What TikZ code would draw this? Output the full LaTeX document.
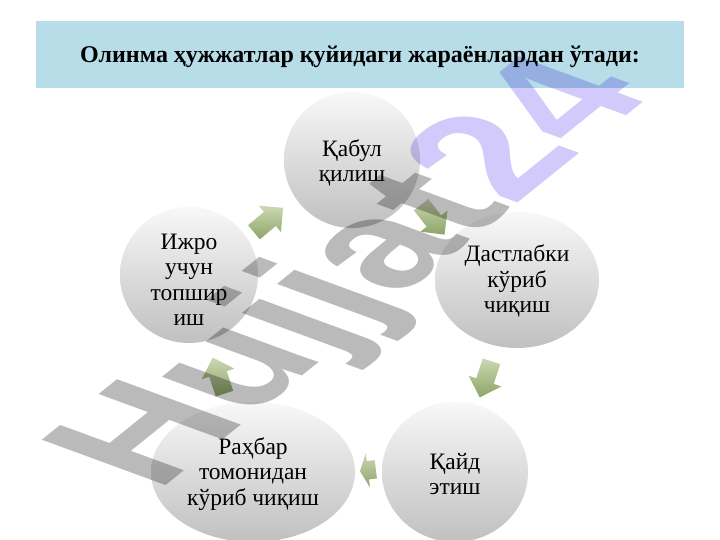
\documentclass[tikz,border=0pt]{standalone}
\usepackage{fontspec}
\setmainfont{Liberation Serif}
\newfontfamily\wmfont{Liberation Sans}
\usetikzlibrary{shapes.geometric,shapes.arrows}
\definecolor{titlebg}{RGB}{183,221,232}
\definecolor{bubtop}{RGB}{248,248,248}
\definecolor{bubbot}{RGB}{192,192,192}
\definecolor{arlight}{RGB}{204,216,178}
\definecolor{ardark}{RGB}{142,164,104}
\definecolor{wmgray}{RGB}{186,186,186}
\definecolor{wmviolet}{RGB}{210,202,250}
\begin{document}
\begin{tikzpicture}[x=1pt,y=-1pt,
  bubble/.style={ellipse, inner sep=0pt, shade, top color=bubtop, bottom color=bubbot, draw=none},
  txt/.style={align=center, font=\fontsize{23.5}{25.5}\selectfont, text=black, inner sep=0pt},
  cyc/.style={single arrow, shade, top color=arlight, bottom color=ardark, minimum height=38pt, single arrow head extend=8pt, inner sep=9pt, draw=none}]
\useasboundingbox (0,0) rectangle (720,540);
\fill[white] (0,0) rectangle (720,540);
\node[rectangle, fill=titlebg, minimum width=648pt, minimum height=67pt, inner sep=0pt] (title) at (360,54.5) {};
\node[font=\bfseries\fontsize{24}{28}\selectfont, inner sep=0pt] (ttext) at (360,57) {Олинма ҳужжатлар қуйидаги жараёнлардан ўтади:};
% bubbles
\node[bubble, minimum width=136pt, minimum height=136pt] (kabul) at (352,160) {};
\node[bubble, minimum width=164pt, minimum height=136pt] (dast) at (517,280) {};
\node[bubble, minimum width=146pt, minimum height=140pt] (kayd) at (455,472) {};
\node[bubble, minimum width=204pt, minimum height=140pt] (rahbar) at (253,472) {};
\node[bubble, minimum width=138pt, minimum height=136pt] (ijro) at (189,275) {};
% cycle arrows
\node[cyc, rotate=40] (a1) at (265,223) {};
\node[cyc, rotate=-52] (a2) at (430,216) {};
\node[cyc, rotate=-108] (a3) at (487,375) {};
\node[cyc, rotate=187, minimum height=16pt, inner xsep=2pt, inner ysep=9pt, single arrow tip angle=130] (a4) at (370,470) {};
\node[cyc, rotate=108] (a5) at (220,380) {};
% texts
\node[txt] (t1) at (kabul.center) [yshift=-3pt] {Қабул\\қилиш};
\node[txt] (t2) at (dast.center) [yshift=-1pt] {Дастлабки\\кўриб\\чиқиш};
\node[txt] (t3) at (kayd.center) [yshift=-2pt] {Қайд\\этиш};
\node[txt] (t4) at (rahbar.center) [yshift=-2pt] {Раҳбар\\томонидан\\кўриб чиқиш};
\node[txt] (t5) at (ijro.center) [yshift=-5pt] {Ижро\\учун\\топшир\\иш};
% watermark
\begin{scope}[blend mode=multiply]
\begin{scope}[cm={1.28,1.03,-1.80,0.66,(360,275)}]
\node[transform shape, inner sep=0pt, font=\wmfont\bfseries\fontsize{100}{100}\selectfont] (wm) at (0,0) {\textcolor{wmgray}{Hujjat}\textcolor{wmviolet}{24}};
\end{scope}
\end{scope}
\end{tikzpicture}
\end{document}
